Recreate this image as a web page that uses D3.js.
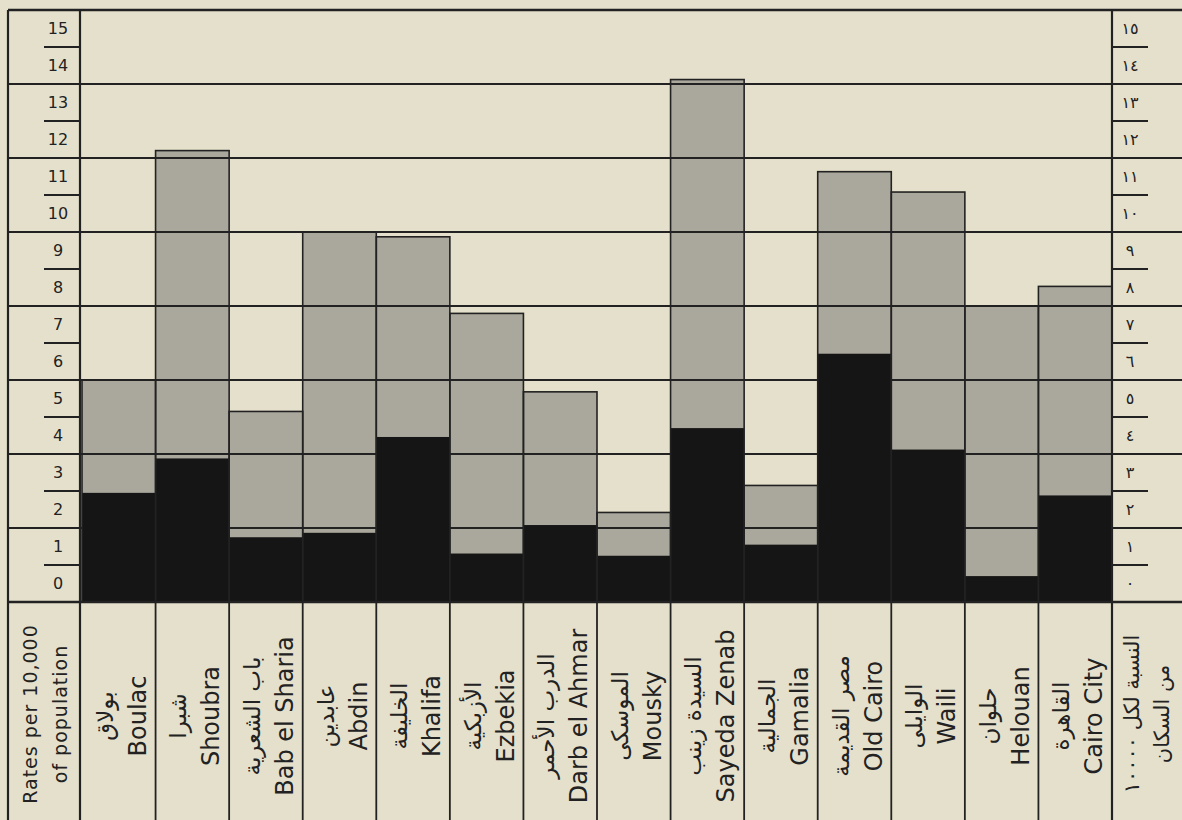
<!DOCTYPE html>
<html>
<head>
<meta charset="utf-8">
<script src="https://cdn.jsdelivr.net/npm/d3@7"></script>
<style>
  html, body { margin: 0; padding: 0; background: #e5e0cc; }
  svg { display: block; }
</style>
</head>
<body>
<svg id="chart" width="1182" height="820"></svg>
<script>
// ---- data ----
const districtsEn = ["Boulac", "Shoubra", "Bab el Sharia", "Abdin", "Khalifa", "Ezbekia",
  "Darb el Ahmar", "Mousky", "Sayeda Zenab", "Gamalia", "Old Cairo", "Waili", "Helouan", "Cairo City"];
const districtsAr = ["بولاق", "شبرا", "باب الشعرية", "عابدين", "الخليفة", "الأزبكية",
  "الدرب الأحمر", "الموسكى", "السيدة زينب", "الجمالية", "مصر القديمة", "الوايلى", "حلوان", "القاهرة"];
const totalRates = [6.0, 12.2, 5.15, 10.0, 9.87, 7.8, 5.68, 2.42, 14.12, 3.15, 11.63, 11.08, 8.0, 8.53];
const blackRates = [2.95, 3.88, 1.75, 1.87, 4.46, 1.31, 2.08, 1.25, 4.7, 1.55, 6.71, 4.12, 0.7, 2.88];
const leftTickLabels = ["0","1","2","3","4","5","6","7","8","9","10","11","12","13","14","15"];
const rightTickLabels = ["٠","١","٢","٣","٤","٥","٦","٧","٨","٩","١٠","١١","١٢","١٣","١٤","١٥"];
const leftTitle = ["Rates per 10,000", "of population"];
const rightTitle = ["النسبة لكل ١٠٠٠٠", "من السكان"];

// ---- layout ----
const W = 1182, H = 820;
const frameLeft = 8, labelColRight = 80, plotRight = 1112;
const yTop = 10, yZero = 602;
const ink = "#222";
const paper = "#e5e0cc";
const grey = "#aaa79d";
const black = "#151515";

const svg = d3.select("#chart");
svg.append("rect").attr("width", W).attr("height", H).attr("fill", paper);

const x = d3.scaleBand().domain(districtsEn).range([labelColRight + 2, plotRight]).padding(0);
const y = d3.scaleLinear().domain([0, 16]).range([yZero, yTop]);

const data = districtsEn.map((d, i) => ({ en: d, ar: districtsAr[i], total: totalRates[i], black: blackRates[i] }));

// grey (total) bars
svg.append("g").selectAll("rect").data(data).join("rect")
  .attr("x", d => x(d.en)).attr("width", x.bandwidth())
  .attr("y", d => y(d.total)).attr("height", d => y(0) - y(d.total))
  .attr("fill", grey);

// long grid lines at even values
const evens = d3.range(2, 16, 2);
svg.append("g").selectAll("line").data(evens).join("line")
  .attr("x1", frameLeft).attr("x2", W)
  .attr("y1", d => y(d)).attr("y2", d => y(d))
  .attr("stroke", ink).attr("stroke-width", 2);

// black bars
svg.append("g").selectAll("rect").data(data).join("rect")
  .attr("x", d => x(d.en)).attr("width", x.bandwidth())
  .attr("y", d => y(d.black)).attr("height", d => y(0) - y(d.black))
  .attr("fill", black);

// bar outlines
svg.append("g").selectAll("rect").data(data).join("rect")
  .attr("x", d => x(d.en)).attr("width", x.bandwidth())
  .attr("y", d => y(d.total)).attr("height", d => y(0) - y(d.total))
  .attr("fill", "none").attr("stroke", ink).attr("stroke-width", 1.6);

// top and zero lines
svg.append("line").attr("x1", frameLeft).attr("x2", W).attr("y1", y(16)).attr("y2", y(16))
  .attr("stroke", ink).attr("stroke-width", 2.5);
svg.append("line").attr("x1", frameLeft).attr("x2", W).attr("y1", y(0)).attr("y2", y(0))
  .attr("stroke", ink).attr("stroke-width", 2.5);

// vertical frame lines
[frameLeft, labelColRight, plotRight].forEach(xx => {
  svg.append("line").attr("x1", xx).attr("x2", xx).attr("y1", y(16)).attr("y2", H)
    .attr("stroke", ink).attr("stroke-width", 2.2);
});
// category separators in the label strip
const bounds = districtsEn.slice(1).map(d => x(d));
svg.append("g").selectAll("line").data(bounds).join("line")
  .attr("x1", d => d).attr("x2", d => d).attr("y1", y(0)).attr("y2", H)
  .attr("stroke", ink).attr("stroke-width", 1.8);

// odd-value short ticks in the side columns
const odds = d3.range(1, 16, 2);
svg.append("g").selectAll("line").data(odds).join("line")
  .attr("x1", 44).attr("x2", labelColRight).attr("y1", d => y(d)).attr("y2", d => y(d))
  .attr("stroke", ink).attr("stroke-width", 1.8);
svg.append("g").selectAll("line").data(odds).join("line")
  .attr("x1", plotRight).attr("x2", 1148).attr("y1", d => y(d)).attr("y2", d => y(d))
  .attr("stroke", ink).attr("stroke-width", 1.8);

// tick labels (each label sits inside its unit band)
svg.append("g").selectAll("text").data(leftTickLabels).join("text")
  .attr("x", 58).attr("y", (d, i) => y(i + 0.5))
  .attr("text-anchor", "middle").attr("dominant-baseline", "central")
  .attr("font-family", "DejaVu Sans").attr("font-size", 16).attr("fill", ink)
  .text(d => d);
svg.append("g").selectAll("text").data(rightTickLabels).join("text")
  .attr("x", 1130).attr("y", (d, i) => y(i + 0.5))
  .attr("text-anchor", "middle").attr("dominant-baseline", "central")
  .attr("font-family", "DejaVu Sans").attr("font-size", 16).attr("fill", ink)
  .text(d => d);

// category labels (rotated)
const labelMidY = 716;
const lab = svg.append("g").selectAll("g").data(data).join("g")
  .attr("transform", d => `translate(${x(d.en) + x.bandwidth() / 2},${labelMidY}) rotate(-90)`);
lab.append("text").attr("x", 0).attr("y", -14)
  .attr("text-anchor", "middle").attr("dominant-baseline", "central")
  .attr("font-family", "DejaVu Sans").attr("font-size", 23).attr("fill", ink)
  .text(d => d.ar);
lab.append("text").attr("x", 0).attr("y", 19)
  .attr("text-anchor", "middle").attr("dominant-baseline", "central")
  .attr("font-family", "DejaVu Sans").attr("font-size", 24).attr("fill", ink)
  .text(d => d.en);

// side titles
const lt = svg.append("g").attr("transform", `translate(${(frameLeft + labelColRight) / 2},714) rotate(-90)`);
lt.selectAll("text").data(leftTitle).join("text")
  .attr("x", 0).attr("y", (d, i) => i === 0 ? -14 : 16)
  .attr("text-anchor", "middle").attr("dominant-baseline", "central")
  .attr("font-family", "DejaVu Sans").attr("font-size", 19).attr("letter-spacing", 1)
  .attr("fill", ink)
  .text(d => d);
const rt = svg.append("g").attr("transform", `translate(1146,714) rotate(-90)`);
rt.selectAll("text").data(rightTitle).join("text")
  .attr("x", 0).attr("y", (d, i) => i === 0 ? -14 : 16)
  .attr("text-anchor", "middle").attr("dominant-baseline", "central")
  .attr("font-family", "DejaVu Sans").attr("font-size", 21).attr("fill", ink)
  .text(d => d);
</script>
</body>
</html>
